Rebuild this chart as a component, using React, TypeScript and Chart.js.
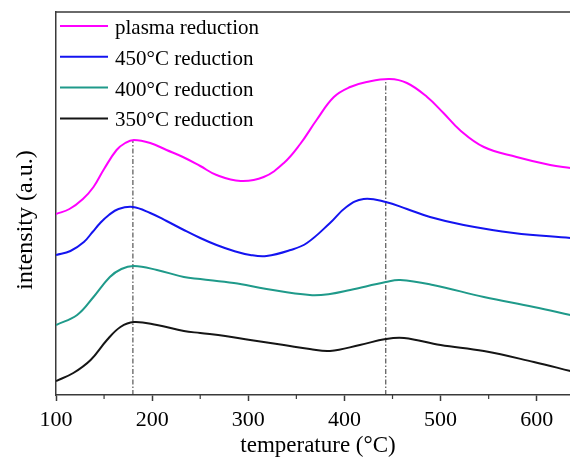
import { useEffect, useRef } from "react";
import { Chart, registerables } from "chart.js";

Chart.register(...registerables);

// ---- data ----
const seriesLabels = ["plasma reduction", "450°C reduction", "400°C reduction", "350°C reduction"];

const plasmaTemp = [100, 114, 128, 139, 150, 163, 172, 181, 198, 215, 232, 250, 267, 292, 316, 337, 354, 371, 389, 406, 423, 447, 465, 486, 503, 520, 545, 579, 614, 635];
const plasmaIntensity = [181, 186, 196, 208, 226, 245, 252, 255, 252, 245, 238, 229, 220, 214, 218, 232, 251, 275, 298, 308, 313, 316, 312, 298, 282, 265, 248, 238, 230, 227];

const t450Temp = [100, 115, 129, 138, 146, 155, 165, 180, 198, 215, 233, 250, 267, 285, 302, 319, 344, 361, 385, 402, 420, 443, 465, 489, 524, 576, 635];
const t450Intensity = [140, 144, 153, 163, 172, 180, 186, 188, 182, 174, 165, 157, 150, 144, 140, 139, 145, 152, 172, 188, 196, 193, 186, 178, 170, 162, 157];

const t400Temp = [100, 122, 139, 156, 168, 181, 205, 233, 250, 285, 319, 364, 385, 406, 443, 458, 492, 545, 597, 635];
const t400Intensity = [70, 80, 98, 118, 126, 129, 125, 118, 116, 112, 106, 100, 101, 105, 113, 115, 110, 98, 88, 80];

const t350Temp = [100, 118, 136, 153, 167, 181, 205, 233, 250, 276, 302, 337, 364, 385, 416, 443, 462, 500, 545, 597, 635];
const t350Intensity = [14, 22, 35, 55, 68, 73, 70, 64, 62, 59, 55, 50, 46, 44, 50, 56, 57, 50, 44, 33, 24];

const markerTemps = [180, 443];
const markerTops = [255, 316];

const xTickValues = [100, 200, 300, 400, 500, 600];
const xMinorTickValues = [150, 250, 350, 450, 550, 650];

// ---- styles ----
const seriesColors = ["#ff00ff", "#1414f0", "#1f9a8a", "#151515"];
const FONT = "'Liberation Serif', 'Times New Roman', serif";
const AXIS_COLOR = "#3a3a3a";

function pts(xs: number[], ys: number[]) {
  return xs.map((x, i) => ({ x, y: ys[i] }));
}

const decorPlugin = {
  id: "decor",
  afterDraw(chart: any) {
    const { ctx, chartArea } = chart;
    const xs = chart.scales.x;
    ctx.save();
    // top and right frame
    ctx.strokeStyle = AXIS_COLOR;
    ctx.lineWidth = 1.5;
    ctx.beginPath();
    ctx.moveTo(chartArea.left, chartArea.top);
    ctx.lineTo(chartArea.right, chartArea.top);
    ctx.lineTo(chartArea.right, chartArea.bottom);
    ctx.stroke();
    // minor ticks
    ctx.lineWidth = 1.2;
    ctx.beginPath();
    xMinorTickValues.forEach((v) => {
      const px = xs.getPixelForValue(v);
      if (px >= chartArea.left && px <= chartArea.right) {
        ctx.moveTo(px, chartArea.bottom);
        ctx.lineTo(px, chartArea.bottom + 4);
      }
    });
    ctx.stroke();
    // y axis title
    ctx.fillStyle = "#000";
    ctx.font = `24px ${FONT}`;
    ctx.textAlign = "center";
    ctx.textBaseline = "alphabetic";
    ctx.translate(32, 220);
    ctx.rotate(-Math.PI / 2);
    ctx.fillText("intensity (a.u.)", 0, 0);
    ctx.restore();

    // legend
    ctx.save();
    ctx.font = `21px ${FONT}`;
    ctx.textAlign = "left";
    ctx.textBaseline = "alphabetic";
    chart.data.datasets.slice(0, seriesLabels.length).forEach((ds: any, i: number) => {
      const y = 26 + i * 30.8;
      ctx.strokeStyle = ds.borderColor;
      ctx.lineWidth = 2;
      ctx.beginPath();
      ctx.moveTo(60, y);
      ctx.lineTo(108, y);
      ctx.stroke();
      ctx.fillStyle = "#000";
      ctx.fillText(ds.label, 115, y + 8);
    });
    ctx.restore();
  },
};

export default function App() {
  const ref = useRef<HTMLCanvasElement | null>(null);

  useEffect(() => {
    if (!ref.current) return;
    const series = [
      pts(plasmaTemp, plasmaIntensity),
      pts(t450Temp, t450Intensity),
      pts(t400Temp, t400Intensity),
      pts(t350Temp, t350Intensity),
    ];
    const datasets: any[] = series.map((data, i) => ({
      label: seriesLabels[i],
      data,
      borderColor: seriesColors[i],
      backgroundColor: seriesColors[i],
      borderWidth: 2,
      pointRadius: 0,
      tension: 0.4,
      fill: false,
    }));
    markerTemps.forEach((t, i) => {
      datasets.push({
        label: "",
        data: [
          { x: t, y: 0 },
          { x: t, y: markerTops[i] },
        ],
        borderColor: "#333",
        borderWidth: 1,
        borderDash: [5, 2, 1.5, 2],
        pointRadius: 0,
        tension: 0,
        fill: false,
      });
    });

    const chart = new Chart(ref.current, {
      type: "line",
      data: { datasets },
      options: {
        responsive: false,
        animation: false,
        devicePixelRatio: 1,
        layout: { padding: { top: 12, left: 0, right: 10, bottom: 0 } },
        plugins: {
          legend: { display: false },
          tooltip: { enabled: false },
        },
        scales: {
          x: {
            type: "linear",
            min: 100,
            max: 645,
            afterBuildTicks: (scale: any) => {
              scale.ticks = xTickValues.map((v) => ({ value: v }));
            },
            afterFit: (scale: any) => {
              scale.height = 75;
            },
            ticks: {
              color: "#000",
              font: { family: FONT, size: 22 },
              padding: 6,
              maxRotation: 0,
              autoSkip: false,
            },
            grid: {
              display: true,
              drawOnChartArea: false,
              drawTicks: true,
              tickLength: 6,
              tickColor: AXIS_COLOR,
              tickWidth: 1.5,
            },
            border: { display: true, color: AXIS_COLOR, width: 1.5 },
            title: {
              display: true,
              text: "temperature (°C)",
              color: "#000",
              font: { family: FONT, size: 23 },
              padding: { top: 0, bottom: 10 },
            },
          },
          y: {
            type: "linear",
            min: 0,
            max: 383,
            afterFit: (scale: any) => {
              scale.width = 56;
            },
            ticks: { display: false },
            grid: { display: true, drawOnChartArea: false, drawTicks: false },
            border: { display: true, color: AXIS_COLOR, width: 1.5 },
          },
        },
      },
      plugins: [decorPlugin],
    });
    return () => chart.destroy();
  }, []);

  return (
    <div
      style={{
        position: "absolute",
        left: 0,
        top: 0,
        width: 570,
        height: 458,
        overflow: "hidden",
        background: "#fff",
      }}
    >
      <canvas ref={ref} width={590} height={470} style={{ width: 590, height: 470, display: "block" }} />
    </div>
  );
}
